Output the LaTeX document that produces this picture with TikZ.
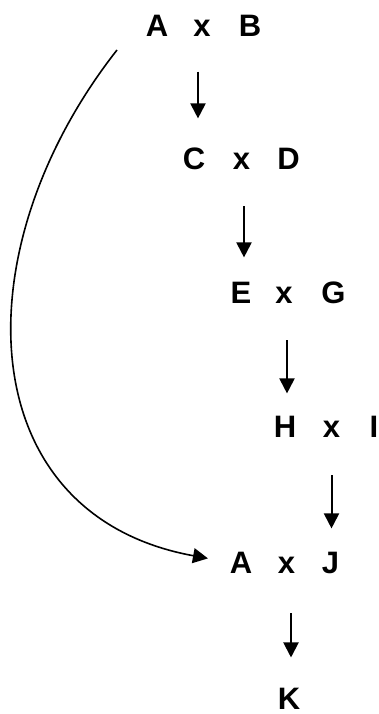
\documentclass[tikz,border=0pt]{standalone}
\usepackage{fontspec}
\setmainfont{Liberation Sans}
\usetikzlibrary{arrows.meta}
\begin{document}
\begin{tikzpicture}[x=1pt,y=-1pt,
  lbl/.style={inner sep=0pt,anchor=base,font=\bfseries\fontsize{31}{37}\selectfont},
  arr/.style={line width=2pt,-{Triangle[length=15pt,width=15pt]}}]
\useasboundingbox (0,0) rectangle (379,714);

\node[lbl] (a1) at (157,36.5) {A};
\node[lbl] (x1) at (202,36.5) {x};
\node[lbl] (b1) at (250,36.5) {B};

\node[lbl] (c2) at (194,170) {C};
\node[lbl] (x2) at (241.5,170) {x};
\node[lbl] (d2) at (288.5,170) {D};

\node[lbl] (e3) at (241,303) {E};
\node[lbl] (x3) at (284,303) {x};
\node[lbl] (g3) at (333.5,303) {G};

\node[lbl] (h4) at (285,437) {H};
\node[lbl] (x4) at (331.5,437) {x};
\node[lbl] (i4) at (374,437) {I};

\node[lbl] (a5) at (241,573) {A};
\node[lbl] (x5) at (286.5,573) {x};
\node[lbl] (j5) at (330.5,573) {J};

\node[lbl] (k6) at (289,709) {K};

\draw[arr,shorten <=35pt,shorten >=35pt] ([xshift=-4pt]x1.south) -- ([xshift=-4pt]x1.south |- x2.north);
\draw[arr,shorten <=36pt,shorten >=29pt] ([xshift=2.5pt]x2.south) -- ([xshift=2.5pt]x2.south |- x3.north);
\draw[arr,shorten <=37pt,shorten >=27pt] ([xshift=3pt]x3.south) -- ([xshift=3pt]x3.south |- x4.north);
\draw[arr,shorten <=38pt,shorten >=28pt] (x4.south) -- (x4.south |- x5.north);
\draw[arr,shorten <=40pt,shorten >=30pt] ([xshift=4.5pt]x5.south) -- ([xshift=4.5pt]x5.south |- k6.north);

\coordinate (c0) at (117,50);
\draw[arr,line width=1.6pt,shorten >=22pt] (c0) .. controls (-40,250) and (-30,515) .. (a5.west);
\end{tikzpicture}
\end{document}
